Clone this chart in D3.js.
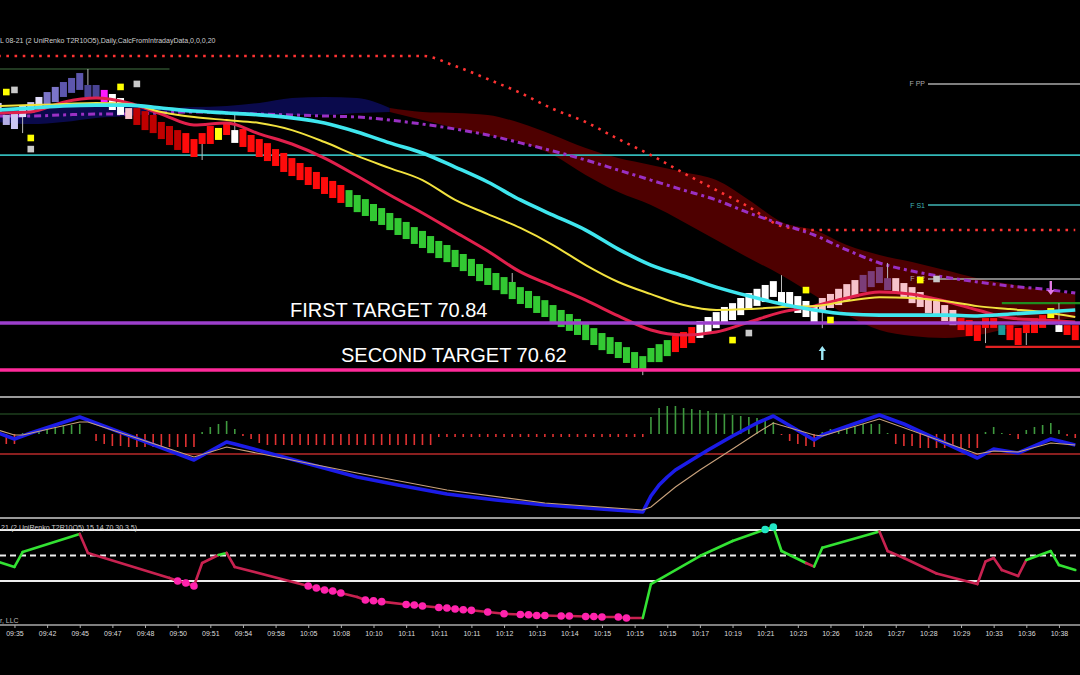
<!DOCTYPE html>
<html>
<head>
<meta charset="utf-8">
<script src="https://cdn.jsdelivr.net/npm/d3@7"></script>
<style>
  html, body { margin: 0; background: #000; overflow: hidden; }
  text { font-family: "Liberation Sans", Arial, sans-serif; }
</style>
</head>
<body>
<svg id="chart" width="1080" height="675"></svg>
<script>
// ---- renko bricks (bar index 0..132), body top / bottom prices ----
var brickTop = [
  71.870, 71.814, 71.828, 71.860, 71.874, 71.898, 71.921, 71.945, 71.968, 71.987,
  72.010, 71.954, 71.954, 71.931, 71.912, 71.893, 71.846, 71.846, 71.832, 71.814,
  71.781, 71.762, 71.743, 71.729, 71.701, 71.729, 71.762, 71.753, 71.781, 71.743,
  71.748, 71.720, 71.701, 71.682, 71.654, 71.636, 71.612, 71.589, 71.570, 71.547,
  71.523, 71.505, 71.486, 71.462, 71.439, 71.420, 71.397, 71.378, 71.355, 71.331,
  71.313, 71.289, 71.271, 71.247, 71.224, 71.205, 71.182, 71.163, 71.140, 71.116,
  71.097, 71.074, 71.055, 71.032, 71.008, 70.990, 70.966, 70.947, 70.924, 70.901,
  70.882, 70.859, 70.840, 70.816, 70.793, 70.774, 70.751, 70.727, 70.704, 70.685,
  70.723, 70.741, 70.760, 70.779, 70.798, 70.821, 70.849, 70.868, 70.891, 70.915,
  70.933, 70.957, 70.980, 71.000, 71.018, 71.036, 70.985, 70.985, 70.966, 70.943,
  70.915, 70.957, 70.976, 71.000, 71.022, 71.041, 71.065, 71.083, 71.102, 71.050,
  71.050, 71.027, 71.008, 70.985, 70.962, 70.943, 70.924, 70.901, 70.863, 70.854,
  70.830, 70.863, 70.863, 70.830, 70.830, 70.817, 70.835, 70.863, 70.877, 70.910,
  70.830, 70.830, 70.830
];
var brickBottom = [
  71.823, 71.767, 71.748, 71.804, 71.823, 71.846, 71.851, 71.874, 71.898, 71.917,
  71.931, 71.898, 71.893, 71.874, 71.837, 71.814, 71.795, 71.767, 71.743, 71.729,
  71.701, 71.673, 71.650, 71.636, 71.617, 71.678, 71.678, 71.697, 71.720, 71.683,
  71.664, 71.640, 71.617, 71.598, 71.575, 71.547, 71.528, 71.509, 71.486, 71.467,
  71.444, 71.425, 71.402, 71.383, 71.359, 71.341, 71.317, 71.299, 71.275, 71.252,
  71.233, 71.210, 71.191, 71.167, 71.144, 71.125, 71.102, 71.083, 71.060, 71.036,
  71.018, 70.994, 70.975, 70.952, 70.929, 70.910, 70.887, 70.868, 70.844, 70.821,
  70.803, 70.784, 70.760, 70.737, 70.713, 70.695, 70.676, 70.653, 70.629, 70.624,
  70.657, 70.657, 70.685, 70.704, 70.723, 70.746, 70.770, 70.793, 70.816, 70.844,
  70.854, 70.877, 70.901, 70.920, 70.938, 70.962, 70.924, 70.915, 70.887, 70.868,
  70.844, 70.891, 70.910, 70.924, 70.943, 70.962, 70.985, 71.008, 71.027, 70.994,
  70.985, 70.962, 70.933, 70.915, 70.887, 70.868, 70.849, 70.830, 70.807, 70.779,
  70.756, 70.817, 70.817, 70.784, 70.760, 70.737, 70.793, 70.793, 70.817, 70.863,
  70.798, 70.784, 70.760
];
var brickColor = [
  'l1','l2','l1','l0','l1','l0','s1','s1','s2','s2','s2','s3','s3','mg','wh','wh','pk',
  'dr','dr','dr','dr','dr','dr','rd','rd','rd','rd','yl','rd','wh',
  'rd','rd','rd','rd','rd','rd','rd','rd','rd','rd','rd','rd','rd',
  'gn','gn','gn','gn','gn','gn','gn','gn','gn','gn','gn','gn','gn','gn','gn','gn','gn','gn','gn','gn',
  'gn','gn','gn','gn','gn','gn','gn','gn','gn','gn','gn','gn','gn','gn','gn','gn','gn','gn','gn','gn',
  'rd','rd','rd',
  'wh','wh','wh','wh','wh','wh','wh','wh','wh','wh','wh','wh','wh','wh','wh',
  'pk','pk','pk','pk','pk','pu','pu','pu','pu',
  'pk','pk','pk','pk','pk','pk','pk','pk',
  'rd','rd','rd','rd','rd','tl','rd','rd','rd','rd','rd','yl','wh','rd','rd'
];
var brickPalette = {
  l0: '#e2defc', l1: '#cbc6f2', l2: '#b4aee6', s1: '#7c75c9', s2: '#5d56ad', s3: '#4a4494',
  mg: '#ff18ff', wh: '#ffffff', pk: '#f7c3cb', dr: '#c00000', rd: '#ff0b0b', yl: '#ffff10',
  gn: '#33c933', pu: '#7b3d79', tl: '#1c9a9a'
};
var wickBars = [3, 11, 25, 29, 63, 79, 96, 101, 109, 121, 126, 130];
var wickEnds = [71.729, 72.029, 71.603, 71.814, 71.074, 70.596, 71.064, 70.816, 71.121, 70.746, 70.737, 70.933];

// ---- indicator lines, sampled every 4th bar ----
var maBars = d3.range(0, 133, 4);
var cyanMA = [71.837, 71.846, 71.856, 71.860, 71.860, 71.846, 71.832, 71.823, 71.814, 71.800, 71.776, 71.734,
  71.683, 71.636, 71.570, 71.500, 71.416, 71.345, 71.275, 71.186, 71.111, 71.060, 71.008, 70.966, 70.929,
  70.901, 70.882, 70.877, 70.877, 70.877, 70.873, 70.882, 70.891, 70.901];
var yellowMA = [71.856, 71.860, 71.865, 71.870, 71.865, 71.828, 71.804, 71.790, 71.776, 71.743, 71.687, 71.622,
  71.565, 71.509, 71.416, 71.350, 71.285, 71.205, 71.111, 71.032, 70.975, 70.924, 70.901, 70.905, 70.915,
  70.919, 70.943, 70.961, 70.957, 70.943, 70.919, 70.905, 70.891, 70.868];
var redMA = [71.823, 71.828, 71.874, 71.893, 71.870, 71.818, 71.767, 71.776, 71.725, 71.678, 71.612, 71.528,
  71.439, 71.355, 71.266, 71.177, 71.079, 71.013, 70.947, 70.873, 70.807, 70.784, 70.798, 70.844, 70.891,
  70.919, 70.957, 70.985, 70.975, 70.943, 70.901, 70.863, 70.854, 70.844];
var purpleDash = [71.809, 71.809, 71.814, 71.818, 71.818, 71.823, 71.828, 71.823, 71.818, 71.814, 71.809, 71.804,
  71.790, 71.771, 71.748, 71.720, 71.683, 71.645, 71.603, 71.556, 71.509, 71.462, 71.416, 71.355, 71.303,
  71.252, 71.182, 71.121, 71.083, 71.055, 71.032, 71.013, 70.999, 70.980];
var redDots = [72.090, 72.090, 72.090, 72.090, 72.090, 72.090, 72.090, 72.090, 72.090, 72.090, 72.090, 72.090,
  72.090, 72.090, 72.043, 71.982, 71.917, 71.842, 71.781, 71.701, 71.626, 71.542, 71.462, 71.383, 71.294,
  71.275, 71.275, 71.275, 71.275, 71.275, 71.275, 71.275, 71.275, 71.275];
var cloudUpper = [71.846, 71.846, 71.851, 71.856, 71.856, 71.846, 71.851, 71.856, 71.870, 71.893, 71.898, 71.893,
  71.846, 71.828, 71.823, 71.814, 71.776, 71.720, 71.659, 71.612, 71.580, 71.547, 71.509, 71.416, 71.313,
  71.275, 71.205, 71.158, 71.125, 71.088, 71.050, 71.022, 70.994, 70.975];
var cloudLower = [71.781, 71.771, 71.781, 71.800, 71.809, 71.823, 71.823, 71.823, 71.818, 71.814, 71.814, 71.823,
  71.828, 71.790, 71.753, 71.720, 71.687, 71.626, 71.533, 71.453, 71.392, 71.313, 71.228, 71.144, 71.064,
  70.971, 70.877, 70.807, 70.779, 70.770, 70.784, 70.816, 70.844, 70.863];

// ---- price levels ----
var pivotNames = ['F PP', 'F S1', 'F S2'];
var pivotPrices = [71.959, 71.392, 71.046];
var pivotColors = ['#a8a8a8', '#3fb4b4', '#a8a8a8'];
var targetNames = ['FIRST TARGET 70.84', 'SECOND TARGET 70.62'];
var targetPrices = [70.84, 70.62];
var targetColors = ['#9c3fcc', '#ff2a9a'];
var segPrices = [72.029, 70.933, 70.728];
var segFrom = [0, 123, 121];
var segTo = [21, 133, 133];
var segColors = ['#2c4c2c', '#1f8c1f', '#e02222'];
var dayLine = 71.626;

// ---- markers ----
var markerBars = [1, 2, 4, 4, 15, 17, 90, 92, 99, 102, 113, 115];
var markerPrices = [71.921, 71.931, 71.706, 71.654, 71.945, 71.959, 70.760, 70.793, 70.994, 70.854, 71.041, 71.046];
var markerKinds = ['y', 'g', 'y', 'g', 'y', 'g', 'y', 'g', 'y', 'y', 'y', 'g'];
var arrowBars = [101, 129];
var arrowPrices = [70.699, 71.004];
var arrowDirs = ['up', 'down'];

// ---- middle oscillator ----
var histogram = [
  -0.4, -0.5, -0.5, 0.05, 0.1, 0.2, 0.3, 0.35, 0.4, 0.45, 0.5, 0,
  -0.35, -0.5, -0.6, -0.6, -0.65, -0.65, -0.65, -0.65, -0.65, -0.65, -0.65, -0.65, -0.65,
  0.1, 0.35, 0.5, 0.65, 0.25,
  -0.1, -0.25, -0.45, -0.55, -0.55, -0.55, -0.55, -0.55, -0.55, -0.55, -0.55, -0.55, -0.55,
  -0.55, -0.55, -0.55, -0.55, -0.55, -0.55, -0.55, -0.55, -0.55, -0.55, -0.55,
  -0.15, -0.15, -0.15, -0.15, -0.15, -0.15, -0.15, -0.15, -0.15, -0.15, -0.15, -0.15, -0.15,
  -0.15, -0.15, -0.15, -0.15, -0.15, -0.15, -0.15, -0.15, -0.15, -0.15, -0.15, -0.15, -0.15,
  0.85, 1.3, 1.4, 1.4, 1.3, 1.25, 1.2, 1.15, 1.05, 1.0, 0.95, 0.9, 0.85, 0.8, 0.75, 0.6,
  -0.05, -0.35, -0.5, -0.6, -0.65,
  0.1, 0.25, 0.25, 0.35, 0.4, 0.5, 0.5, 0.5, 0.05,
  -0.5, -0.6, -0.6, -0.7, -0.7, -0.7, -0.7, -0.7, -0.7, -0.7, -0.7,
  0.1, 0.35, 0.05, -0.05, -0.25, 0.2, 0.35, 0.45, 0.55, 0.2, -0.1, -0.2
];
var oscBars = [0, 2, 4, 10, 24, 28, 29, 44, 49, 55, 61, 67, 79, 80, 81, 82, 83, 85, 87, 90, 93, 95,
  100, 101, 108, 111, 120, 122, 125, 129, 132];
var oscBlue = [0.05, -0.25, 0.05, 0.85, -1.3, -0.4, -0.5, -2.15, -2.55, -3.0, -3.3, -3.55, -3.9, -3.1, -2.55,
  -2.15, -1.8, -1.3, -0.8, -0.1, 0.55, 0.9, -0.3, -0.05, 0.95, 0.5, -1.2, -0.75, -0.95, -0.25, -0.55];
var tanBars = [0, 2, 3, 10, 11, 24, 28, 44, 55, 67, 79, 80, 83, 86, 90, 93, 95, 100, 101, 108, 120, 122, 125, 129, 132];
var tanVals = [0.2, -0.05, -0.05, 0.6, 0.6, -1.15, -0.65, -1.95, -2.8, -3.45, -3.8, -3.65, -2.65, -1.8, -0.75,
  0.05, 0.55, -0.05, -0.1, 0.75, -1.0, -0.85, -0.9, -0.45, -0.55];

// ---- bottom RSI-type line ----
var rsiBars = [0, 2, 3, 10, 11, 21, 22, 23, 24, 25, 27, 28, 29, 38, 39, 40, 41, 42, 44, 45, 46, 47, 50, 51, 52,
  54, 55, 56, 57, 58, 60, 62, 64, 65, 66, 67, 69, 70, 72, 73, 74, 76, 77, 79, 80, 86, 90, 94, 95, 96,
  99, 100, 101, 108, 109, 111, 115, 120, 121, 122, 123, 125, 126, 129, 130, 132];
var rsiValues = [45.1, 41.0, 52.7, 66.9, 52.0, 32.4, 30.0, 28.4, 26.1, 44.1, 50.4, 52.0, 41.0, 26.1, 24.5, 22.9,
  22.2, 20.6, 17.5, 15.1, 14.5, 13.8, 11.6, 11.2, 10.4, 9.2, 8.8, 8.0, 7.5, 7.0, 5.7, 4.3, 3.7, 3.5, 2.9,
  2.9, 2.5, 2.5, 2.2, 2.2, 1.8, 1.8, 1.0, 1.0, 27.6, 49.6, 61.4, 70.4, 72.4, 53.5, 44.1, 41.3, 56.1, 68.8,
  53.5, 48.0, 35.9, 27.6, 45.3, 48.0, 38.6, 33.9, 46.5, 53.5, 42.5, 38.6];
var rsiColors = ['g', 'g', 'g', 'g', 'r', 'r', 'r', 'r', 'r', 'r', 'r', 'g', 'r', 'r', 'r', 'r', 'r', 'r', 'r', 'r',
  'r', 'r', 'r', 'r', 'r', 'r', 'r', 'r', 'r', 'r', 'r', 'r', 'r', 'r', 'r', 'r', 'r', 'r', 'r', 'r', 'r', 'r',
  'r', 'r', 'g', 'g', 'g', 'g', 'g', 'g', 'g', 'r', 'g', 'g', 'r', 'r', 'r', 'r', 'r', 'r', 'r', 'r', 'r', 'g',
  'g', 'g'];
var lowDots = [22, 23, 24, 38, 39, 40, 41, 42, 45, 46, 47, 50, 51, 52, 54, 55, 56, 57, 58, 60, 62, 64, 65, 66,
  67, 69, 70, 72, 73, 74, 76, 77];
var highDots = [94, 95];

// ---- time axis ----
var tickBars = d3.range(2, 131, 4);
var timeLabels = ['09:35', '09:42', '09:45', '09:47', '09:48', '09:50', '09:51', '09:54', '09:58', '10:05',
  '10:08', '10:10', '10:11', '10:11', '10:11', '10:12', '10:13', '10:14', '10:15', '10:15', '10:15', '10:17',
  '10:19', '10:21', '10:23', '10:26', '10:26', '10:27', '10:28', '10:29', '10:33', '10:36', '10:38'];

var W = 1080, H = 675;
var svg = d3.select('#chart');
svg.append('rect').attr('width', W).attr('height', H).attr('fill', '#000');

var x = d3.scaleLinear().domain([0, 132]).range([-1.86, 1075.26]);
var y = d3.scaleLinear().domain([70.62, 70.84]).range([370, 323]);
var yOsc = d3.scaleLinear().domain([-1, 1]).range([454, 414]);
var yRsi = d3.scaleLinear().domain([30, 70]).range([581, 530]);

var defs = svg.append('defs');
defs.append('clipPath').attr('id', 'clipMain').append('rect').attr('width', W).attr('height', 394);
defs.append('clipPath').attr('id', 'clipOsc').append('rect').attr('y', 399).attr('width', W).attr('height', 117);
defs.append('clipPath').attr('id', 'clipRsi').append('rect').attr('y', 520).attr('width', W).attr('height', 104);

// ================= main price panel =================
var main = svg.append('g').attr('clip-path', 'url(#clipMain)');

var cloudPts = maBars.map(function(b, i) { return {bar: b, hi: cloudUpper[i], lo: cloudLower[i]}; });
var cloudArea = d3.area()
  .x(function(d) { return x(d.bar); })
  .y0(function(d) { return y(d.lo); })
  .y1(function(d) { return y(d.hi); })
  .curve(d3.curveMonotoneX);
main.append('path').datum(cloudPts.slice(0, 13)).attr('fill', '#0a0a4c').attr('d', cloudArea);
main.append('path').datum(cloudPts.slice(12)).attr('fill', '#4e0000').attr('d', cloudArea);

// day line + pivots
main.append('line').attr('x1', 0).attr('x2', W).attr('y1', y(dayLine)).attr('y2', y(dayLine))
  .attr('stroke', '#33b8b8').attr('stroke-width', 1.6);
pivotPrices.forEach(function(p, i) {
  main.append('line').attr('x1', 928).attr('x2', W).attr('y1', y(p)).attr('y2', y(p))
    .attr('stroke', pivotColors[i]).attr('stroke-width', 1.4);
  main.append('text').attr('x', 925).attr('y', y(p) + 2.5).attr('text-anchor', 'end')
    .attr('font-size', 7).attr('fill', pivotColors[i]).text(pivotNames[i]);
});
segPrices.forEach(function(p, i) {
  main.append('line').attr('x1', x(segFrom[i])).attr('x2', x(segTo[i])).attr('y1', y(p)).attr('y2', y(p))
    .attr('stroke', segColors[i]).attr('stroke-width', i === 0 ? 1.4 : 2.2);
});

function maLine(vals) {
  return d3.line().x(function(b) { return x(b); }).y(function(b, i) { return y(vals[i]); })
    .curve(d3.curveMonotoneX)(maBars);
}

main.append('path').attr('d', maLine(redDots)).attr('fill', 'none')
  .attr('stroke', '#ff3333').attr('stroke-width', 2.6).attr('stroke-dasharray', '2.6 5.6');
main.append('path').attr('d', maLine(purpleDash)).attr('fill', 'none')
  .attr('stroke', '#9a30c4').attr('stroke-width', 3).attr('stroke-dasharray', '7 4 3 4');

// bricks
main.selectAll('line.wick').data(wickBars).join('line')
  .attr('x1', function(b) { return x(b); }).attr('x2', function(b) { return x(b); })
  .attr('y1', function(b, i) { return y(wickEnds[i]); })
  .attr('y2', function(b) { return y((brickTop[b] + brickBottom[b]) / 2); })
  .attr('stroke', '#bbbbbb').attr('stroke-width', 1);
main.selectAll('rect.brick').data(d3.range(brickTop.length)).join('rect')
  .attr('x', function(i) { return x(i) - 3.5; }).attr('width', 7)
  .attr('y', function(i) { return y(brickTop[i]); })
  .attr('height', function(i) { return y(brickBottom[i]) - y(brickTop[i]); })
  .attr('fill', function(i) { return brickPalette[brickColor[i]]; });

main.append('path').attr('d', maLine(redMA)).attr('fill', 'none').attr('stroke', '#e0204c').attr('stroke-width', 3);
main.append('path').attr('d', maLine(yellowMA)).attr('fill', 'none').attr('stroke', '#f2e23e').attr('stroke-width', 2);
main.append('path').attr('d', maLine(cyanMA)).attr('fill', 'none').attr('stroke', '#3fe6ee').attr('stroke-width', 3.6);

// targets
targetPrices.forEach(function(p, i) {
  main.append('line').attr('x1', 0).attr('x2', W).attr('y1', y(p)).attr('y2', y(p))
    .attr('stroke', targetColors[i]).attr('stroke-width', 3.4);
});
main.append('text').attr('x', 290).attr('y', 317).attr('font-size', 20).attr('fill', '#fff').text(targetNames[0]);
main.append('text').attr('x', 341).attr('y', 362).attr('font-size', 20).attr('fill', '#fff').text(targetNames[1]);

// markers
main.selectAll('rect.mk').data(markerBars).join('rect')
  .attr('x', function(b) { return x(b) - 3.3; }).attr('width', 6.6)
  .attr('y', function(b, i) { return y(markerPrices[i]) - 3.3; }).attr('height', 6.6)
  .attr('fill', function(b, i) { return markerKinds[i] === 'y' ? '#ffff00' : '#c9c9c9'; });

arrowBars.forEach(function(b, i) {
  var cx = x(b), cy = y(arrowPrices[i]), s = arrowDirs[i] === 'up' ? -1 : 1;
  var pts = [[0, 7], [3.6, 2], [1.2, 2], [1.2, -7], [-1.2, -7], [-1.2, 2], [-3.6, 2]]
    .map(function(p) { return [cx + p[0], cy + p[1] * s]; });
  main.append('path').attr('d', 'M' + pts.join('L') + 'Z')
    .attr('fill', arrowDirs[i] === 'up' ? '#9fe9f7' : '#e27ae4');
});

svg.append('text').attr('x', 0).attr('y', 43).attr('font-size', 7).attr('fill', '#cfcfcf')
  .text('L 08-21 (2 UniRenko T2R10O5),Daily,CalcFromIntradayData,0,0,0,20');

// ================= middle oscillator panel =================
svg.append('line').attr('x1', 0).attr('x2', W).attr('y1', 397).attr('y2', 397).attr('stroke', '#9a9a9a').attr('stroke-width', 2);
svg.append('line').attr('x1', 0).attr('x2', W).attr('y1', 518).attr('y2', 518).attr('stroke', '#9a9a9a').attr('stroke-width', 2);
var osc = svg.append('g').attr('clip-path', 'url(#clipOsc)');
osc.append('line').attr('x1', 0).attr('x2', W).attr('y1', yOsc(1)).attr('y2', yOsc(1)).attr('stroke', '#2c5e2c').attr('stroke-width', 1.2);
osc.append('line').attr('x1', 0).attr('x2', W).attr('y1', yOsc(-1)).attr('y2', yOsc(-1)).attr('stroke', '#b82a2a').attr('stroke-width', 1.4);
osc.selectAll('line.hist').data(histogram).join('line')
  .attr('x1', function(v, i) { return x(i); }).attr('x2', function(v, i) { return x(i); })
  .attr('y1', yOsc(0)).attr('y2', function(v) { return yOsc(v); })
  .attr('stroke', function(v) { return v >= 0 ? '#3f9a3f' : '#e23232'; }).attr('stroke-width', 1.6);
var oscLine = d3.line().x(function(d) { return x(d[0]); }).y(function(d) { return yOsc(d[1]); });
osc.append('path').attr('d', oscLine(oscBars.map(function(b, i) { return [b, oscBlue[i]]; })))
  .attr('fill', 'none').attr('stroke', '#1c1ce8').attr('stroke-width', 3.6).attr('stroke-linejoin', 'round');
osc.append('path').attr('d', oscLine(tanBars.map(function(b, i) { return [b, tanVals[i]]; })))
  .attr('fill', 'none').attr('stroke', '#c9a27c').attr('stroke-width', 1.1);

// ================= bottom panel =================
var rsi = svg.append('g').attr('clip-path', 'url(#clipRsi)');
[70, 30].forEach(function(v) {
  rsi.append('line').attr('x1', 0).attr('x2', W).attr('y1', yRsi(v)).attr('y2', yRsi(v))
    .attr('stroke', '#eeeeee').attr('stroke-width', 2);
});
rsi.append('line').attr('x1', 0).attr('x2', W).attr('y1', yRsi(50)).attr('y2', yRsi(50))
  .attr('stroke', '#eeeeee').attr('stroke-width', 2).attr('stroke-dasharray', '6 4');
rsiBars.forEach(function(b, i) {
  if (i === 0) return;
  rsi.append('line').attr('x1', x(rsiBars[i - 1])).attr('y1', yRsi(rsiValues[i - 1]))
    .attr('x2', x(b)).attr('y2', yRsi(rsiValues[i]))
    .attr('stroke', rsiColors[i] === 'g' ? '#33e233' : '#c82250').attr('stroke-width', 2.6)
    .attr('stroke-linecap', 'round');
});
function rsiAt(b) { return rsiValues[rsiBars.indexOf(b)]; }
rsi.selectAll('circle.lo').data(lowDots).join('circle')
  .attr('cx', function(b) { return x(b); }).attr('cy', function(b) { return yRsi(rsiAt(b)); })
  .attr('r', 3.8).attr('fill', '#ff23ad');
rsi.selectAll('circle.hi').data(highDots).join('circle')
  .attr('cx', function(b) { return x(b); }).attr('cy', function(b) { return yRsi(rsiAt(b)); })
  .attr('r', 3.8).attr('fill', '#22e6c6');
svg.append('text').attr('x', 1).attr('y', 530).attr('font-size', 7).attr('fill', '#cfcfcf')
  .text('21 (2 UniRenko T2R10O5),15,14,70,30,3,5)');
svg.append('text').attr('x', 0).attr('y', 623).attr('font-size', 7).attr('fill', '#bdbdbd')
  .text('r, LLC');

// ================= time axis =================
svg.append('line').attr('x1', 0).attr('x2', W).attr('y1', 625).attr('y2', 625).attr('stroke', '#aaaaaa').attr('stroke-width', 1.5);
var axis = svg.append('g').attr('transform', 'translate(0,625)')
  .call(d3.axisBottom(x).tickValues(tickBars).tickSize(3).tickSizeOuter(0)
    .tickFormat(function(d, i) { return timeLabels[i]; }));
axis.select('.domain').remove();
axis.selectAll('line').attr('stroke', '#aaaaaa');
axis.selectAll('text').attr('fill', '#dddddd').attr('font-size', 7)
  .attr('font-family', '"Liberation Sans", Arial, sans-serif');
</script>
</body>
</html>
